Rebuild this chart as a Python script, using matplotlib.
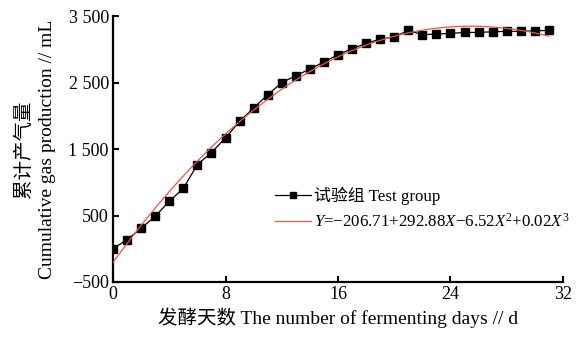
import matplotlib
matplotlib.use("Agg")
import matplotlib.pyplot as plt
import numpy as np

plt.rcParams['font.family'] = ['Liberation Serif', 'Noto Sans CJK SC']
plt.rcParams['mathtext.fontset'] = 'custom'
plt.rcParams['mathtext.rm'] = 'Liberation Serif'
plt.rcParams['mathtext.it'] = 'Liberation Serif:italic'

# Data
days = list(range(0, 32))
gas = [0, 139, 309, 490, 715, 911, 1268, 1450, 1670, 1920, 2122, 2322, 2503,
       2608, 2709, 2815, 2925, 3015, 3095, 3160, 3191, 3290, 3226, 3236, 3245,
       3260, 3260, 3270, 3275, 3275, 3285, 3290]
coef = [-206.71, 292.88, -6.52, 0.02]
xticks = [0, 8, 16, 24, 32]
yticks = [-500, 500, 1500, 2500, 3500]
ytick_labels = ['−500', '500', '1 500', '2 500', '3 500']

fig = plt.figure(figsize=(5.81, 3.38), dpi=100)
ax = fig.add_axes([0.1945, 0.1657, 0.7745, 0.7855])

xf = np.linspace(0, 31, 300)
yf = coef[0] + coef[1]*xf + coef[2]*xf**2 + coef[3]*xf**3

ax.plot(days, gas, color='black', lw=0.9, marker='s', ms=6, mfc='black', mec='black',
        label='试验组 Test group', zorder=2)
ax.plot(xf, yf, color='#f0553f', lw=0.9, zorder=3,
        label='$Y$=−206.71+292.88$X$−6.52$X^2$+0.02$X^3$')

ax.set_xlim(0, 32)
ax.set_ylim(-500, 3500)
ax.set_xticks(xticks)
ax.set_yticks(yticks)
ax.set_yticklabels(ytick_labels)
for s in ['top', 'right']:
    ax.spines[s].set_visible(False)
for s in ['left', 'bottom']:
    ax.spines[s].set_linewidth(1.6)
ax.tick_params(direction='in', length=4, width=1.5, labelsize=13, pad=3)

ax.set_xlabel('发酵天数 The number of fermenting days // d', fontsize=14, labelpad=3)
ax.set_ylabel('累计产气量\nCumulative gas production // mL', fontsize=14, labelpad=9,
              linespacing=1.45)

leg = ax.legend(loc='center left', bbox_to_anchor=(0.36, 0.275), frameon=False,
                fontsize=12.2, handlelength=2.1, handletextpad=0.2, borderpad=0,
                borderaxespad=0, labelspacing=0.45, markerscale=0.8)

fig.savefig('out.png', dpi=100)
